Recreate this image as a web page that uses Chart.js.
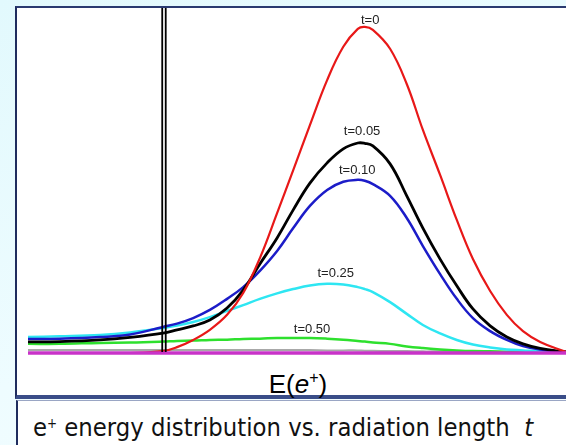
<!DOCTYPE html>
<html lang="en">
<head>
    <meta charset="UTF-8">
    <meta name="viewport" content="width=device-width, initial-scale=1.0">
    <title>e+ energy distribution</title>
    <script src="https://cdn.jsdelivr.net/npm/chart.js"></script>
    <style>
        body { margin: 0; width: 566px; height: 445px; overflow: hidden; position: relative;
               background: linear-gradient(160deg, #e2f9fd 0%, #eefcff 60%, #f4fdff 100%); }
        #frame { position: absolute; left: 15px; top: 6px; width: 560px; height: 387px;
                 background: #fff; border-left: 2px solid #1f2c5e; border-top: 2px solid #2a3a70;
                 border-bottom: 4px solid #3a4d88; }
        #caption { position: absolute; left: 16px; top: 400px; width: 560px; height: 45px;
                   background: #fff; border-left: 2px solid #1f2c5e; border-top: 1px solid #9aa6c4; }
        #caption span { position: absolute; left: 15px; top: 10px; font-family: "DejaVu Sans", sans-serif;
                        font-size: 22.8px; line-height: 26px; color: #111; white-space: pre;
                        transform: scaleY(1.12); transform-origin: 0 21px; }
        #caption sup { font-size: 12px; vertical-align: 8px; }
        #xlabel { position: absolute; left: 226px; width: 144px; top: 364px; text-align: center;
                  font-family: "Liberation Sans", Arial, sans-serif; font-size: 26px; line-height: 28px; color: #000; }
        #xlabel sup { font-size: 16px; vertical-align: 10px; }
        canvas { position: absolute; left: 0; top: 0; }
    </style>
</head>
<body>
    <div id="frame"></div>
    <div id="caption"><span>e<sup>+</sup> energy distribution vs. radiation length  <i>t</i></span></div>
    <div id="xlabel">E(<i>e</i><sup>+</sup>)</div>
    <canvas id="myChart" width="566" height="445"></canvas>

    <script>
// energy axis (arbitrary units, 0..100)
const energy = [0, 5.9, 13.4, 19.0, 25.1, 27.7, 30.7, 33.8, 37.0, 40.0,
                43.1, 46.3, 49.3, 52.4, 55.6, 58.6, 61.3, 62.6, 64.1, 67.3,
                70.4, 73.4, 76.6, 79.7, 82.7, 85.9, 89.0, 92.0, 95.2, 100];

// distributions, t=0 peak = 100
const t0 = [0, 0, 0, 0, 0.6, 1.8, 4.0, 7.1, 11.7, 18.4,
            29.1, 42.9, 56.1, 69.9, 83.7, 93.9, 99.4, 100, 99.1, 93.3,
            82.5, 68.4, 54.6, 40.8, 28.8, 19.0, 11.7, 6.7, 3.4, 0.3];
const t005 = [3.4, 3.5, 4.0, 4.8, 6.1, 7.1, 8.3, 10.1, 13.8, 19.3,
              27.3, 35.3, 43.9, 52.1, 58.3, 62.6, 64.4, 64.3, 63.5, 58.0,
              48.2, 38.3, 28.8, 20.6, 13.5, 8.3, 4.9, 2.8, 1.4, 0.3];
const t010 = [4.3, 4.4, 4.9, 5.7, 8.0, 9.0, 10.7, 13.2, 16.6, 20.2,
              25.2, 31.3, 38.3, 45.1, 50.0, 52.5, 53.1, 52.8, 51.8, 48.2,
              41.4, 32.8, 24.2, 16.6, 10.7, 6.7, 4.0, 2.1, 1.1, 0.3];
const t025 = [4.9, 5.1, 5.5, 6.3, 7.7, 8.4, 9.5, 11.0, 12.9, 14.7,
              16.6, 18.3, 19.6, 20.7, 21.2, 21.0, 20.2, 19.6, 18.7, 15.6,
              12.0, 8.6, 6.0, 4.0, 2.6, 1.7, 1.1, 0.8, 0.5, 0.3];
const t050 = [2.8, 2.8, 3.1, 3.2, 3.5, 3.7, 3.8, 4.0, 4.1, 4.3,
              4.4, 4.6, 4.6, 4.6, 4.4, 4.1, 3.7, 3.5, 3.2, 2.8,
              2.0, 1.5, 1.1, 0.8, 0.6, 0.5, 0.4, 0.3, 0.3, 0.3];
const t100 = [0.9, 0.9, 0.9, 0.9, 0.9, 0.9, 0.9, 0.9, 0.9, 0.9,
              0.9, 0.9, 0.9, 0.9, 0.8, 0.8, 0.8, 0.7, 0.7, 0.6,
              0.6, 0.5, 0.5, 0.4, 0.4, 0.3, 0.3, 0.3, 0.3, 0.3];
const t200 = [0, 0, 0, 0, 0, 0, 0, 0, 0, 0,
              0, 0, 0, 0, 0, 0, 0, 0, 0, 0,
              0, 0, 0, 0, 0, 0, 0, 0, 0, 0];

// curve labels and where they sit (energy, height)
const tLabels = ["t=0", "t=0.05", "t=0.10", "t=0.25", "t=0.50"];
const labelE = [63.6, 62.1, 61.2, 57.2, 52.8];
const labelV = [102.1, 67.8, 56.1, 24.5, 7.1];

// double vertical marker line
const cutE = [24.95, 25.6];
const yMax = 105.8;

function serie(vals, color, width) {
    return {
        data: energy.map((e, i) => ({ x: e, y: vals[i] })),
        borderColor: color,
        borderWidth: width,
        pointRadius: 0,
        tension: 0.4,
        clip: false
    };
}

function marker(e) {
    return {
        data: [{ x: e, y: 0.3 }, { x: e, y: yMax }],
        borderColor: "#000",
        borderWidth: 1.8,
        pointRadius: 0,
        clip: false
    };
}

const curveLabels = {
    id: "curveLabels",
    afterDatasetsDraw(chart) {
        const ctx = chart.ctx;
        const x = chart.scales.x, y = chart.scales.y;
        ctx.save();
        ctx.font = '13px "Liberation Sans", Arial, sans-serif';
        ctx.fillStyle = "#222";
        ctx.textAlign = "center";
        ctx.textBaseline = "middle";
        tLabels.forEach((t, i) => {
            ctx.fillText(t, x.getPixelForValue(labelE[i]), y.getPixelForValue(labelV[i]));
        });
        ctx.restore();
    }
};

const config = {
    type: "line",
    data: {
        datasets: [
            marker(cutE[0]),
            marker(cutE[1]),
            serie(t200, "#c833c8", 3.5),
            serie(t0, "#e81818", 2.2),
            serie(t005, "#000000", 2.8),
            serie(t010, "#1c1cc8", 2.5),
            serie(t025, "#2ee6f2", 2.5),
            serie(t050, "#2ee02e", 2.5),
            serie(t100, "#a8a8a8", 2)
        ]
    },
    options: {
        responsive: false,
        animation: false,
        events: [],
        layout: { padding: { left: 28, right: 0, top: 8, bottom: 92 } },
        plugins: { legend: { display: false }, tooltip: { enabled: false } },
        scales: {
            x: { type: "linear", min: 0, max: 100, display: false },
            y: { min: 0, max: yMax, display: false }
        }
    },
    plugins: [curveLabels]
};

new Chart(document.getElementById("myChart"), config);
    </script>
</body>
</html>
